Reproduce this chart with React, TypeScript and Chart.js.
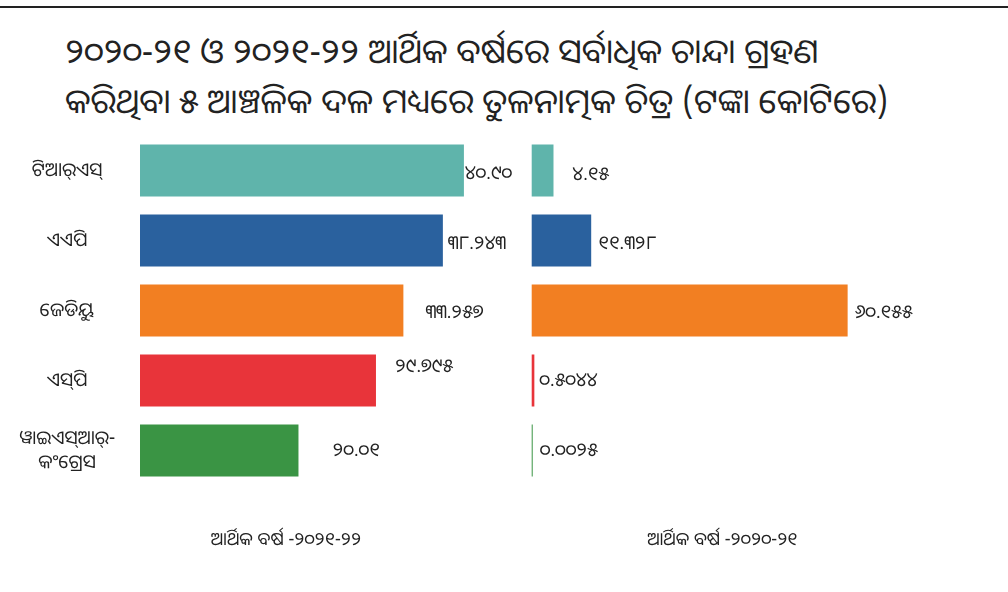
import React, { useEffect, useRef } from "react";
import { Chart, registerables } from "chart.js";

Chart.register(...registerables);

// ---- data ----
const titleLines = [
  "୨୦୨୦-୨୧ ଓ ୨୦୨୧-୨୨ ଆର୍ଥିକ ବର୍ଷରେ ସର୍ବାଧିକ ଚାନ୍ଦା ଗ୍ରହଣ",
  "କରିଥିବା ୫ ଆଞ୍ଚଳିକ ଦଳ ମଧ୍ୟରେ ତୁଳନାତ୍ମକ ଚିତ୍ର (ଟଙ୍କା କୋଟିରେ)",
];
const parties: (string | string[])[] = [
  "ଟିଆର୍‌ଏସ୍",
  "ଏଏପି",
  "ଜେଡିୟୁ",
  "ଏସ୍‌ପି",
  ["ୱାଇଏସ୍‌ଆର୍-", "କଂଗ୍ରେସ"],
];
const values2122 = [40.9, 38.243, 33.257, 29.795, 20.01];
const valueLabels2122 = ["୪୦.୯୦", "୩୮.୨୪୩", "୩୩.୨୫୭", "୨୯.୭୯୫", "୨୦.୦୧"];
const values2021 = [4.15, 11.328, 60.155, 0.5044, 0.0025];
const valueLabels2021 = ["୪.୧୫", "୧୧.୩୨୮", "୬୦.୧୫୫", "୦.୫୦୪୪", "୦.୦୦୨୫"];
const barColors = ["#5fb4ab", "#2a619e", "#f27f22", "#e8343a", "#3a9444"];
const axisTitle2122 = "ଆର୍ଥିକ ବର୍ଷ -୨୦୨୧-୨୨";
const axisTitle2021 = "ଆର୍ଥିକ ବର୍ଷ -୨୦୨୦-୨୧";

const FONT = '"Noto Sans Oriya", "Noto Sans Odia", "Lohit Odia", "Noto Sans", "DejaVu Sans", sans-serif';
const TEXT = "#222222";

const valueLabelPlugin = {
  id: "valueLabels",
  afterDatasetsDraw(chart: any, _args: any, opts: any) {
    const { ctx } = chart;
    const meta = chart.getDatasetMeta(0);
    ctx.save();
    ctx.font = `${opts.size}px ${FONT}`;
    ctx.fillStyle = TEXT;
    ctx.textAlign = "left";
    ctx.textBaseline = "middle";
    meta.data.forEach((bar: any, i: number) => {
      const gap = opts.gaps[i] ?? 6;
      const dy = opts.dys[i] ?? 0;
      ctx.fillText(opts.labels[i], bar.x + gap, bar.y + dy);
    });
    ctx.restore();
  },
};

function makeConfig(
  values: number[],
  labels: string[],
  axisTitle: string,
  xMax: number,
  showY: boolean,
  padding: any,
  gaps: number[],
  dys: number[]
): any {
  return {
    type: "bar",
    data: {
      labels: parties,
      datasets: [
        {
          data: values,
          backgroundColor: barColors,
          borderWidth: 0,
          barPercentage: 0.743,
          categoryPercentage: 1,
          minBarLength: showY ? 0 : 1,
          clip: false,
        },
      ],
    },
    options: {
      indexAxis: "y",
      animation: false,
      responsive: false,
      maintainAspectRatio: false,
      layout: { padding },
      plugins: {
        legend: { display: false },
        tooltip: { enabled: false },
        title: { display: false },
        valueLabels: { labels, gaps, dys, size: 19 },
      },
      scales: {
        x: {
          min: 0,
          max: xMax,
          grid: { display: false, drawTicks: false },
          border: { display: false },
          ticks: { display: false },
          title: {
            display: true,
            text: axisTitle,
            color: TEXT,
            font: { family: FONT, size: 18 },
            padding: { top: 43.7, bottom: 14.2 },
          },
        },
        y: {
          display: showY,
          grid: { display: false, drawTicks: false },
          border: { display: false },
          ticks: {
            color: TEXT,
            font: { family: FONT, size: 19, lineHeight: 1.3 },
            crossAlign: "center",
            padding: 25,
          },
          afterFit: (s: any) => {
            if (showY) s.width = 140;
            s.paddingTop = 0;
            s.paddingBottom = 0;
          },
        },
      },
    },
    plugins: [valueLabelPlugin],
  };
}

function BarChart(props: { config: any; style: React.CSSProperties; width: number; height: number }) {
  const ref = useRef<HTMLCanvasElement>(null);
  useEffect(() => {
    if (!ref.current) return;
    const chart = new Chart(ref.current, props.config);
    return () => chart.destroy();
  }, []);
  return <canvas ref={ref} width={props.width} height={props.height} style={{ position: "absolute", ...props.style }} />;
}

export default function App() {
  const leftCfg = makeConfig(
    values2122,
    valueLabels2122,
    axisTitle2122,
    36.87,
    true,
    { left: 0, right: 88, top: 10.5, bottom: 0 },
    [1, 5, 22, 19, 34],
    [3, 3, 2, -13.5, 0]
  );
  const rightCfg = makeConfig(
    values2021,
    valueLabels2021,
    axisTitle2021,
    72.6,
    false,
    { left: 11.7, right: 95, top: 10.5, bottom: 0 },
    [19, 7, 7, 5, 7],
    [4, 3, 2, 0, 0]
  );
  return (
    <div
      style={{
        position: "absolute",
        left: 0,
        top: 0,
        width: 1008,
        height: 592,
        background: "#ffffff",
        overflow: "hidden",
        fontFamily: FONT,
      }}
    >
      <div style={{ position: "absolute", left: 0, top: 6, width: 1008, height: 2, background: "#222" }} />
      <div
        style={{
          position: "absolute",
          left: 65,
          top: 25,
          fontSize: 34,
          lineHeight: "50px",
          color: TEXT,
          whiteSpace: "nowrap",
        }}
      >
        {titleLines.map((t, i) => (
          <div key={i}>{t}</div>
        ))}
      </div>
      <BarChart config={leftCfg} width={520} height={440} style={{ left: 0, top: 125 }} />
      <BarChart config={rightCfg} width={488} height={440} style={{ left: 520, top: 125 }} />
    </div>
  );
}
